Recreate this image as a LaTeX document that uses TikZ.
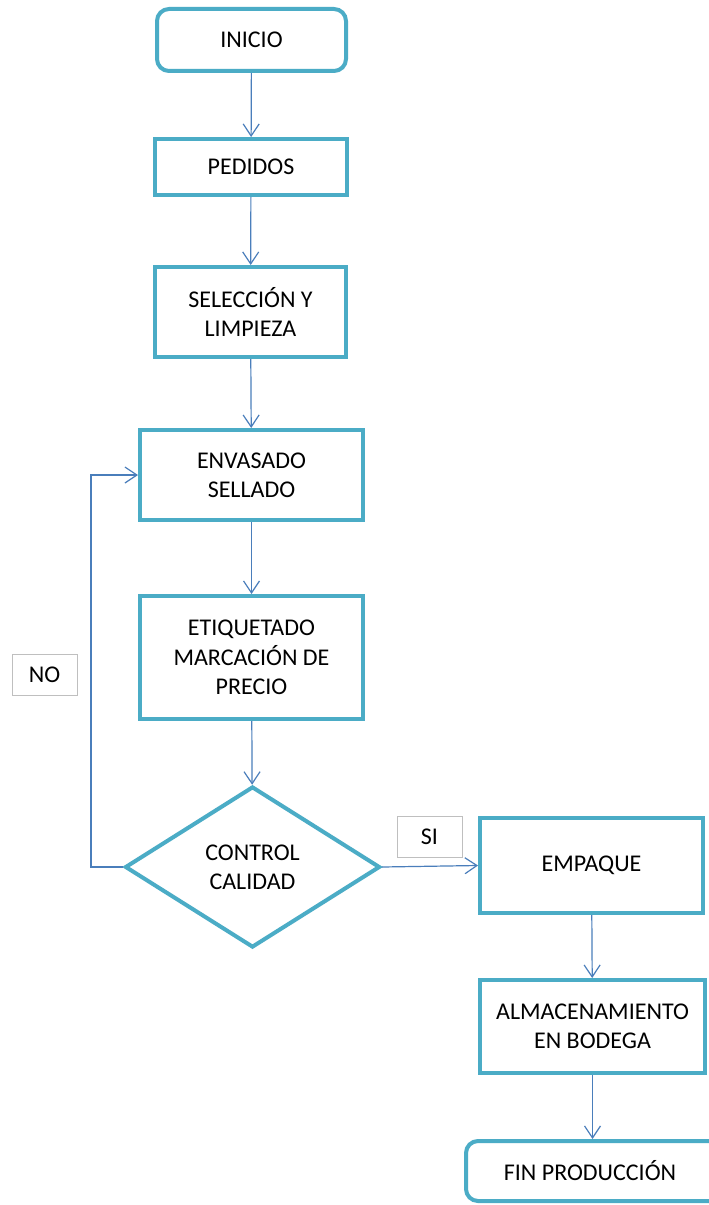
\documentclass[tikz,border=0pt]{standalone}
\usepackage{fontspec}
\setmainfont{Carlito}
\usetikzlibrary{arrows.meta,shapes.geometric}
\definecolor{boxline}{HTML}{4BACC6}
\definecolor{flow}{HTML}{4A7EBB}
\definecolor{tagline}{HTML}{BFBFBF}
\begin{document}
\begin{tikzpicture}[x=0.75pt,y=-0.75pt,
  every node/.style={font=\fontsize{18}{22}\selectfont, align=center, inner sep=0pt, text=black},
  proc/.style={draw=boxline, line width=3pt, fill=white, rectangle},
  term/.style={proc, rounded corners=9pt},
  decision/.style={draw=boxline, line width=3pt, fill=white, diamond, aspect=1.6,
    minimum width=191.25pt, minimum height=120.75pt},
  tag/.style={draw=tagline, line width=0.75pt, fill=white,
    minimum width=48.75pt, minimum height=30.75pt},
  flow/.style={draw=flow, line width=0.9pt, -{Straight Barb[length=9pt,width=12pt]}}]
\clip (0,0) rectangle (709,1205);
\fill[white] (0,0) rectangle (709,1205);

% main column
\node[term, minimum width=141.75pt, minimum height=46.5pt] (ini) at (251.5,40) {\raisebox{-1.5pt}{INICIO}};
\node[proc, minimum width=144pt, minimum height=42pt] (ped) at (251,167) {\raisebox{-1.5pt}{PEDIDOS}};
\node[proc, minimum width=143.25pt, minimum height=67.5pt] (sel) at (250.5,312) {SELECCIÓN Y\\LIMPIEZA};
\node[proc, minimum width=167.25pt, minimum height=67.5pt] (env) at (251.5,475) {ENVASADO\\SELLADO};
\node[proc, minimum width=167.25pt, minimum height=92.25pt] (eti) at (251.5,657.5) {ETIQUETADO\\MARCACIÓN DE\\PRECIO};
\node[decision] (cc) at (252.5,867) {CONTROL\\CALIDAD};

% right column
\node[proc, minimum width=167.25pt, minimum height=71.25pt] (emp) at (591.5,865.5) {\raisebox{-1.5pt}{EMPAQUE}};
\node[proc, minimum width=168.75pt, minimum height=69.75pt] (alm) at (592.5,1026.5) {ALMACENAMIENTO\\EN BODEGA};
% end box runs past the right edge of the page
\node[term, minimum width=202.5pt, minimum height=45pt] (fin) at (601,1171) {FIN PRODUCCIÓN\hspace{16.5pt}};

% branch labels
\node[tag] (si) at (429.5,836.5) {SI};
\node[tag] (no) at (44.5,674.5) {NO};

% connectors
\draw[flow] (ini) -- (ped);
\draw[flow] (ped) -- (sel);
\draw[flow] (sel) -- (env);
\draw[flow] (env) -- (eti);
\draw[flow] (eti) -- (cc);
\draw[flow] (cc.east) -- (emp.west);
\draw[flow] (emp) -- (alm);
\draw[flow] (alm.south) -- (alm.south |- fin.north);
\coordinate (loop) at (91,867);
\draw[flow] (cc.west) -- (loop) |- (env.west);
\end{tikzpicture}
\end{document}
